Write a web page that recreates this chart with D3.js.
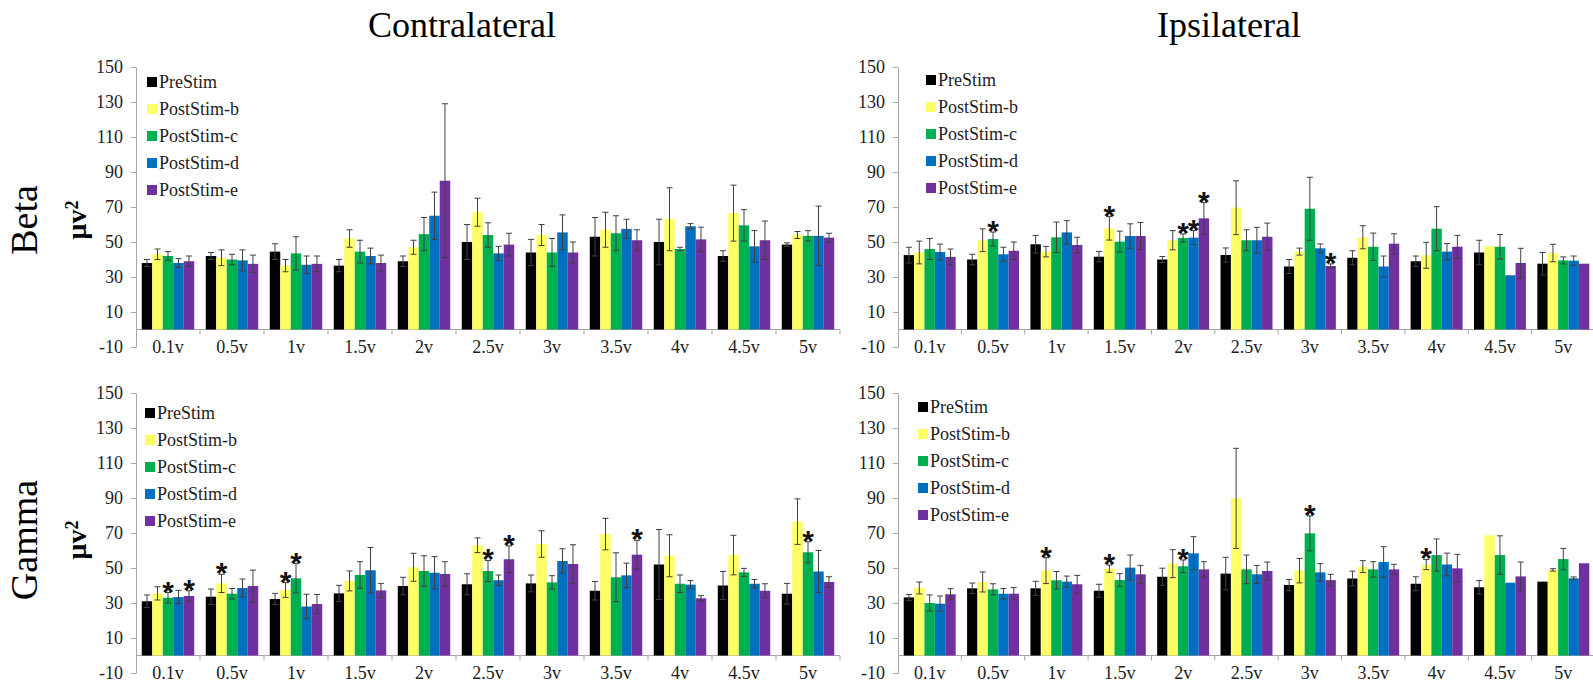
<!DOCTYPE html>
<html>
<head>
<meta charset="utf-8">
<script src="https://cdn.jsdelivr.net/npm/d3@7"></script>
<style>
  body { margin: 0; background: #fff; }
</style>
</head>
<body>
<svg id="chart" width="1593" height="687"></svg>
<script>
// Categories and series
const VOLTS = ["0.1v", "0.5v", "1v", "1.5v", "2v", "2.5v", "3v", "3.5v", "4v", "4.5v", "5v"];
const SERIES = ["PreStim", "PostStim-b", "PostStim-c", "PostStim-d", "PostStim-e"];
const COLORS = ["#000000", "#FFFF66", "#00B050", "#0070C0", "#7030A0"];
const Y_TICKS = [-10, 10, 30, 50, 70, 90, 110, 130, 150];

// Means per voltage, one value per series (Contralateral / Beta)
const contraBeta = [
  [38, 43, 42, 38, 39], [42, 41, 40, 39.5, 37.5], [44.5, 36.5, 43.5, 37, 37.5],
  [36.5, 52, 44.5, 42, 38], [39, 47, 54.5, 65, 85], [50, 67, 54, 43.5, 48.5],
  [44, 54, 44, 55.5, 44], [53, 57, 55, 57.5, 51], [50, 63, 46, 59, 51.5],
  [42, 66.5, 59.5, 47.5, 51], [48.5, 54, 53.5, 53.5, 52.5]
];
const contraBetaErr = [
  [2, 3, 2.5, 2.5, 3], [2, 4.5, 3, 6, 5], [4.5, 3.5, 9.5, 5, 4.5],
  [3.5, 5, 6.5, 4.5, 4.5], [3, 4, 9.5, 13.5, 44], [10, 8, 7, 4, 6.5],
  [7.5, 6, 8, 10, 6], [11, 10, 10, 5.5, 6], [13, 18, 1, 1.5, 7],
  [3, 16, 9, 9, 11], [1, 2, 3, 17, 2.5]
];
const contraBetaStars = [];

// Ipsilateral / Beta
const ipsiBeta = [
  [42.5, 44, 46, 44.3, 41.5], [40, 51, 51.7, 43, 45], [48.7, 44.5, 52.7, 55.5, 48.3],
  [41.6, 57.8, 50.2, 53.4, 53.4], [40, 51, 52.3, 52.5, 63.5], [42.6, 69.6, 51, 51, 53],
  [36, 44.5, 69, 46.4, 36.3], [41, 52.7, 47.3, 36, 49], [39, 42.4, 57.6, 44.5, 47.3],
  [44, 47.5, 47.3, 31, 38], [37.6, 43.7, 39.5, 39.3, 37.6]
];
const ipsiBetaErr = [
  [4.5, 6.5, 6, 4.5, 4.5], [3, 6.5, 4, 4, 5], [5, 3, 8.7, 6.7, 4.4],
  [3, 6.7, 6, 7, 7.8], [1.7, 5.5, 2.3, 4, 9], [4, 15.4, 6, 7.4, 7.8],
  [4, 2, 18, 2.5, 1.2], [4, 6.6, 7.8, 6, 5.7], [3, 7.4, 12.6, 4.6, 6.5],
  [7, 0, 7, 0, 8.4], [6.4, 5, 2, 2.7, 0]
];
const ipsiBetaStars = [[1, 2], [3, 1], [4, 2], [4, 3], [4, 4], [6, 4]];

// Contralateral / Gamma
const contraGamma = [
  [31, 35.5, 33, 33.4, 34], [33.6, 41.2, 35.3, 38.6, 39.7], [32.3, 37.4, 44.1, 28, 29.4],
  [35.5, 42.6, 46, 48.7, 37.2], [39.7, 50.4, 48.3, 47.3, 46.6], [40.7, 63, 48.3, 43, 55],
  [41.2, 63.7, 41.8, 54, 52.3], [37, 69.4, 44.7, 45.8, 57.6], [52, 57, 41, 40.5, 32.7],
  [40, 57.4, 47.5, 41, 37], [35.3, 76.5, 59, 48, 42]
];
const contraGammaErr = [
  [3.6, 3.8, 3, 3.8, 3], [4.4, 5.2, 3, 5.1, 9.1], [3.2, 4.2, 8.4, 7, 5.5],
  [4.6, 5.7, 7.6, 13, 4], [5, 8, 8.7, 9.2, 7], [6, 4.2, 6, 3, 7.6],
  [4.8, 7.6, 3.8, 7, 11], [5.3, 9, 14, 7, 8.2], [20, 12, 5, 2.3, 1.5],
  [8, 11.3, 2.3, 2.4, 4], [5.9, 13, 6, 12, 3]
];
const contraGammaStars = [[0, 2], [0, 4], [1, 1], [2, 1], [2, 2], [5, 2], [5, 4], [7, 4], [10, 2]];

// Ipsilateral / Gamma
const ipsiGamma = [
  [33.2, 38.6, 30, 29.6, 35], [38.4, 42, 37.8, 35.3, 35.3], [38.4, 48.5, 43, 42.2, 40.7],
  [37, 49.6, 43.1, 50.2, 46.4], [45, 52.5, 51, 58.4, 49.2], [46.8, 89.8, 49.2, 46.4, 48.3],
  [40.3, 48.5, 69.8, 47.5, 43.1], [44, 50.8, 49.2, 53.4, 49.2], [41, 52, 57.4, 52, 49.8],
  [39, 68.7, 57.4, 41.6, 45.2], [42.2, 48.9, 55.1, 44.1, 52.7]
];
const ipsiGammaErr = [
  [1.7, 3.4, 4.6, 4.4, 3.2], [3, 5.7, 3.2, 3, 3.5], [4, 7.4, 5, 3.2, 5.1],
  [3.7, 2.1, 3.7, 7.2, 5.1], [4.9, 8, 3.6, 9.5, 4.4], [9.3, 28.6, 8.2, 5.1, 5.1],
  [3.2, 7, 10, 5, 3.3], [4.2, 3.4, 4.4, 8.8, 2.9], [4, 2.9, 9.2, 6.5, 8],
  [3.8, 0, 11, 0, 8.2], [0, 0.7, 6.1, 0.8, 0]
];
const ipsiGammaStars = [[2, 1], [3, 1], [4, 2], [6, 2], [8, 1]];

const SERIF = "'Liberation Serif', 'Times New Roman', Times, serif";
const svg = d3.select("#chart");

// Panel layout
const panels = [
  { means: contraBeta,  errs: contraBetaErr,  stars: contraBetaStars,  x0: 136, x1: 840,  top: 67,  bottom: 347, legX: 147, legY: 82 },
  { means: ipsiBeta,    errs: ipsiBetaErr,    stars: ipsiBetaStars,    x0: 898, x1: 1595, top: 67,  bottom: 347, legX: 926, legY: 80 },
  { means: contraGamma, errs: contraGammaErr, stars: contraGammaStars, x0: 136, x1: 840,  top: 393, bottom: 673, legX: 145, legY: 413 },
  { means: ipsiGamma,   errs: ipsiGammaErr,   stars: ipsiGammaStars,   x0: 898, x1: 1595, top: 393, bottom: 673, legX: 918, legY: 407 }
];

const AXIS_COLOR = "#a6a6a6";

function drawPanel(p) {
  const g = svg.append("g");

  const x = d3.scaleBand().domain(VOLTS).range([p.x0, p.x1]).paddingInner(0).paddingOuter(0);
  const y = d3.scaleLinear().domain([-10, 150]).range([p.bottom, p.top]);
  const inner = d3.scaleBand().domain(d3.range(SERIES.length))
    .range([0, x.bandwidth()]).paddingOuter(0.55).paddingInner(0);

  // y axis
  const yAxis = g.append("g")
    .attr("transform", `translate(${p.x0},0)`)
    .call(d3.axisLeft(y).tickValues(Y_TICKS).tickFormat(d => String(d))
      .tickSize(5).tickSizeOuter(0).tickPadding(8));
  yAxis.select(".domain").attr("stroke", AXIS_COLOR);
  yAxis.selectAll(".tick line").attr("stroke", AXIS_COLOR);
  yAxis.selectAll("text").style("font-size", "18px").style("font-family", SERIF).attr("fill", "#222");

  // x axis at zero, with ticks between categories
  const zeroY = y(0);
  g.append("line")
    .attr("x1", p.x0).attr("x2", p.x1)
    .attr("y1", zeroY).attr("y2", zeroY)
    .attr("stroke", AXIS_COLOR);
  const bounds = VOLTS.map(v => x(v)).concat([p.x1]).slice(1);
  g.selectAll(".xtick").data(bounds).enter().append("line")
    .attr("x1", d => d).attr("x2", d => d)
    .attr("y1", zeroY).attr("y2", zeroY + 5)
    .attr("stroke", AXIS_COLOR);
  g.selectAll(".xlabel").data(VOLTS).enter().append("text")
    .attr("x", d => x(d) + x.bandwidth() / 2)
    .attr("y", y(-10))
    .attr("dy", "0.35em")
    .attr("text-anchor", "middle")
    .style("font-size", "18px")
    .style("font-family", SERIF)
    .attr("fill", "#222")
    .text(d => d);

  // bars
  const groups = g.selectAll(".grp").data(p.means).enter().append("g")
    .attr("transform", (d, i) => `translate(${x(VOLTS[i])},0)`);

  groups.selectAll("rect").data(d => d).enter().append("rect")
    .attr("x", (d, j) => inner(j))
    .attr("width", inner.bandwidth())
    .attr("y", d => y(d))
    .attr("height", d => zeroY - y(d))
    .attr("fill", (d, j) => COLORS[j]);

  // error bars
  const errRows = p.means.map((row, i) => row.map((m, j) => ({ i, j, m, e: p.errs[i][j] })));
  const eb = groups.data(errRows).selectAll(".err").data(d => d.filter(e => e.e > 0)).enter()
    .append("g").attr("stroke", "#404040").attr("stroke-width", 1);
  const cx = d => inner(d.j) + inner.bandwidth() / 2;
  eb.append("line")
    .attr("x1", cx).attr("x2", cx)
    .attr("y1", d => y(d.m - d.e)).attr("y2", d => y(d.m + d.e));
  eb.append("line")
    .attr("x1", d => cx(d) - 3).attr("x2", d => cx(d) + 3)
    .attr("y1", d => y(d.m + d.e)).attr("y2", d => y(d.m + d.e));
  eb.append("line")
    .attr("x1", d => cx(d) - 3).attr("x2", d => cx(d) + 3)
    .attr("y1", d => y(d.m - d.e)).attr("y2", d => y(d.m - d.e));

  // significance stars
  g.selectAll(".star").data(p.stars).enter().append("text")
    .attr("x", d => x(VOLTS[d[0]]) + inner(d[1]) + inner.bandwidth() / 2)
    .attr("y", d => y(p.means[d[0]][d[1]] + p.errs[d[0]][d[1]]) + 9)
    .attr("text-anchor", "middle")
    .style("font-size", "30px")
    .style("font-family", "'Liberation Sans', Arial, sans-serif")
    .style("font-weight", "bold")
    .attr("fill", "#111")
    .text("*");

  // legend
  const leg = g.selectAll(".leg").data(SERIES).enter().append("g")
    .attr("transform", (d, i) => `translate(${p.legX},${p.legY + i * 27})`);
  leg.append("rect")
    .attr("x", 0).attr("y", -5).attr("width", 10).attr("height", 10)
    .attr("fill", (d, i) => COLORS[i]);
  leg.append("text")
    .attr("x", 12).attr("dy", "0.35em")
    .style("font-size", "18px")
    .style("font-family", SERIF)
    .attr("fill", "#222")
    .text(d => d);
}

panels.forEach(drawPanel);

// column titles
svg.append("text").attr("x", 462).attr("y", 37).attr("text-anchor", "middle")
  .style("font-size", "36px").style("font-family", SERIF).text("Contralateral");
svg.append("text").attr("x", 1229).attr("y", 37).attr("text-anchor", "middle")
  .style("font-size", "36px").style("font-family", SERIF).text("Ipsilateral");

// row titles and unit labels
[["Beta", 220], ["Gamma", 540]].forEach(([label, cy]) => {
  svg.append("text")
    .attr("transform", `translate(37,${cy}) rotate(-90)`)
    .attr("text-anchor", "middle")
    .style("font-size", "38px")
    .style("font-family", SERIF)
    .text(label);
  const u = svg.append("text")
    .attr("transform", `translate(86,${cy}) rotate(-90)`)
    .attr("text-anchor", "middle")
    .style("font-size", "28px")
    .style("font-family", SERIF)
    .style("font-weight", "bold");
  u.append("tspan").text("\u03BCv");
  u.append("tspan").attr("dy", "-0.45em").style("font-size", "18px").text("2");
});
</script>
</body>
</html>
